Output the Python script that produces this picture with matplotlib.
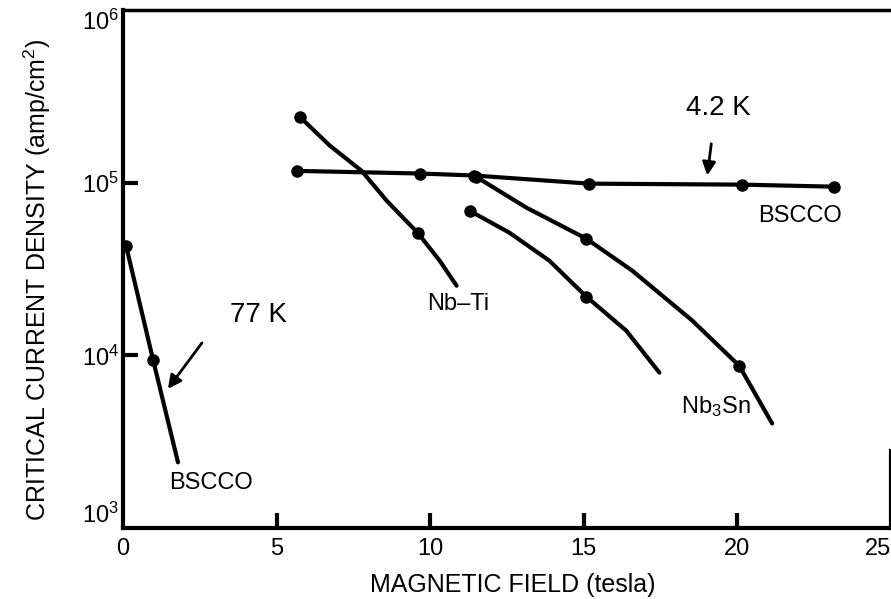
import matplotlib
matplotlib.use("Agg")
import matplotlib.pyplot as plt
from matplotlib.ticker import NullLocator

# ---------------------------------------------------------------------------
# Values (field in tesla, Jc in amp/cm^2)
# *_pts = indices of the measured points (drawn as dots)
# ---------------------------------------------------------------------------
bscco42_x = [5.66, 9.66, 11.44, 15.18, 20.16, 23.15]
bscco42_y = [1.17e5, 1.13e5, 1.10e5, 9.87e4, 9.74e4, 9.48e4]
bscco42_pts = [0, 1, 2, 3, 4, 5]

nbti_x = [5.75, 6.73, 7.77, 8.58, 9.59, 10.31, 10.86]
nbti_y = [2.41e5, 1.64e5, 1.17e5, 7.87e4, 5.13e4, 3.53e4, 2.53e4]
nbti_pts = [0, 4]

nb3sn_hi_x = [11.5, 13.13, 15.08, 16.58, 18.53, 20.06, 21.13]
nb3sn_hi_y = [1.08e5, 7.17e4, 4.74e4, 3.09e4, 1.59e4, 8.7e3, 4.03e3]
nb3sn_hi_pts = [0, 2, 5]

nb3sn_lo_x = [11.28, 12.58, 13.88, 15.08, 16.38, 17.46]
nb3sn_lo_y = [6.88e4, 5.13e4, 3.53e4, 2.19e4, 1.39e4, 7.94e3]
nb3sn_lo_pts = [0, 3]

bscco77_x = [0.1, 0.98, 1.79]
bscco77_y = [4.31e4, 9.4e3, 2.4e3]
bscco77_pts = [0, 1]

x_ticks = [0, 5, 10, 15, 20, 25]
y_ticks = [1e3, 1e4, 1e5, 1e6]

plt.rcParams["font.family"] = ["Liberation Sans", "DejaVu Sans"]
plt.rcParams["mathtext.fontset"] = "custom"
plt.rcParams["mathtext.rm"] = "Liberation Sans"
plt.rcParams["mathtext.it"] = "Liberation Sans:italic"

fig = plt.figure(figsize=(8.91, 5.99), dpi=100)
ax = fig.add_axes([123 / 891, 71 / 599, (891 - 123) / 891, (528 - 10) / 599])

curves = [
    (bscco42_x, bscco42_y, bscco42_pts),
    (nbti_x, nbti_y, nbti_pts),
    (nb3sn_hi_x, nb3sn_hi_y, nb3sn_hi_pts),
    (nb3sn_lo_x, nb3sn_lo_y, nb3sn_lo_pts),
    (bscco77_x, bscco77_y, bscco77_pts),
]
for xs, ys, pts in curves:
    ax.plot(xs, ys, color="black", lw=3, solid_capstyle="round",
            solid_joinstyle="round")
    ax.plot([xs[i] for i in pts], [ys[i] for i in pts], "o",
            color="black", ms=8)

ax.set_yscale("log")
ax.set_xlim(0, 25)
ax.set_ylim(1e3, 1e6)
ax.set_xticks(x_ticks)
ax.set_yticks(y_ticks)
ax.yaxis.set_minor_locator(NullLocator())
ax.tick_params(direction="in", length=11, width=3, labelsize=17)
ax.tick_params(axis="x", pad=7)
ax.tick_params(axis="y", pad=3)

xt = ax.xaxis.get_major_ticks()
yt = ax.yaxis.get_major_ticks()
for t in (xt[0], xt[-1], yt[0], yt[-1]):
    t.tick1line.set_visible(False)
xt[-1].label1.set_horizontalalignment("right")
yt[0].label1.set_verticalalignment("bottom")
yt[-1].label1.set_verticalalignment("top")

for side in ("left", "bottom", "top", "right"):
    ax.spines[side].set_linewidth(3)
ax.spines["top"].set_linewidth(2.5)
ax.spines["right"].set_bounds(1e3, 2.8e3)

# labels on the curves
ax.text(19.38, 2.72e5, "4.2 K", fontsize=20, ha="center", va="center")
ax.text(22.04, 6.45e4, "BSCCO", fontsize=17, ha="center", va="center")
ax.text(10.92, 1.97e4, "Nb\u2013Ti", fontsize=17, ha="center", va="center")
ax.text(19.31, 4.6e3, "Nb$_3$Sn", fontsize=17, ha="center", va="baseline")
ax.text(4.42, 1.72e4, "77 K", fontsize=20, ha="center", va="center")
ax.text(2.86, 1.83e3, "BSCCO", fontsize=17, ha="center", va="center")

arrow = dict(arrowstyle="-|>", color="black", lw=2, mutation_scale=20,
             shrinkA=0, shrinkB=0)
ax.annotate("", xy=(19.02, 1.1e5), xytext=(19.15, 1.68e5), arrowprops=arrow)
ax.annotate("", xy=(1.46, 6.4e3), xytext=(2.57, 1.18e4), arrowprops=arrow)

fig.text(513 / 891, 1 - 585 / 599, "MAGNETIC FIELD (tesla)", fontsize=18,
         ha="center", va="center")
fig.text(37 / 891, 1 - 280 / 599, "CRITICAL CURRENT DENSITY (amp/cm$^2$)",
         fontsize=18, ha="center", va="center", rotation=90)

fig.savefig("out.png", dpi=100)
